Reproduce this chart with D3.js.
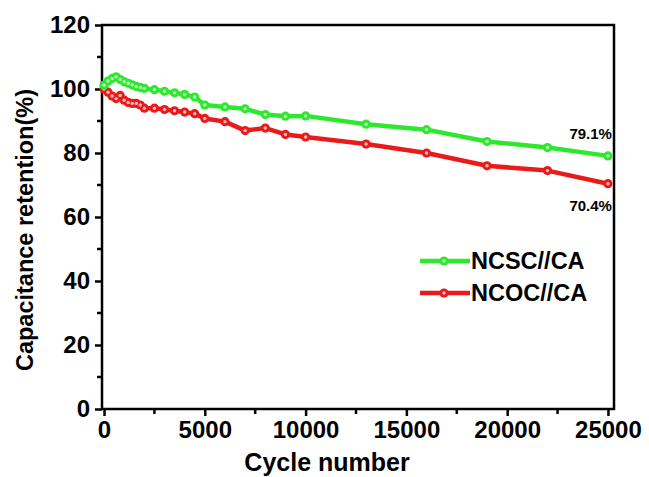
<!DOCTYPE html>
<html>
<head>
<meta charset="utf-8">
<script src="https://cdn.jsdelivr.net/npm/d3@7"></script>
<style>
  body { margin: 0; background: #fff; }
  text { font-family: "Liberation Sans", Arial, sans-serif; font-weight: bold; }
</style>
</head>
<body>
<div id="chart"></div>
<script>
// cycle numbers and retention values
const ncscCycles = [0, 200, 400, 600, 800, 1000, 1200, 1400, 1600, 1800, 2000, 2500, 3000, 3500, 4000, 4500, 5000, 6000, 7000, 8000, 9000, 10000, 13000, 16000, 19000, 22000, 25000];
const ncscValues = [101.2, 102.5, 103.3, 103.8, 103, 102.3, 101.8, 101.3, 100.8, 100.5, 100.2, 99.8, 99.3, 98.8, 98.3, 97.5, 95, 94.4, 93.8, 92, 91.5, 91.6, 89, 87.3, 83.6, 81.7, 79.1];
const ncocCycles = [0, 200, 400, 600, 800, 1000, 1200, 1400, 1600, 1800, 2000, 2500, 3000, 3500, 4000, 4500, 5000, 6000, 7000, 8000, 9000, 10000, 13000, 16000, 19000, 22000, 25000];
const ncocValues = [100, 99, 97.8, 97, 98, 96.5, 95.8, 95.5, 95.5, 95, 94, 94, 93.6, 93.2, 92.8, 92.3, 90.8, 89.8, 87, 87.8, 85.8, 85, 82.8, 80, 76, 74.5, 70.4];

const seriesNames = ["NCSC//CA", "NCOC//CA"];
const xTicks = [0, 5000, 10000, 15000, 20000, 25000];
const xMinor = [2500, 7500, 12500, 17500, 22500];
const yTicks = [0, 20, 40, 60, 80, 100, 120];
const yMinor = [10, 30, 50, 70, 90, 110];

const colors = ["#2ee82e", "#e81a1a"];

var width = 649, height = 477;
var margin = {top: 25, right: 35, bottom: 68, left: 102};

var svg = d3.select("#chart").append("svg")
    .attr("width", width)
    .attr("height", height);

var x = d3.scaleLinear()
    .domain([-100, 25300])
    .range([margin.left, width - margin.right]);

var y = d3.scaleLinear()
    .domain([0, 120])
    .range([height - margin.bottom, margin.top]);

// ticks on the bottom
var xAxis = svg.append("g")
    .attr("transform", "translate(0," + y(0) + ")")
    .call(d3.axisBottom(x).tickValues(xTicks).tickSize(7).tickPadding(5).tickFormat(d3.format("d")));
xAxis.append("g").selectAll("line").data(xMinor).enter().append("line")
    .attr("x1", d => x(d)).attr("x2", d => x(d))
    .attr("y1", 0).attr("y2", 5);

var yAxis = svg.append("g")
    .attr("transform", "translate(" + x(-100) + ",0)")
    .call(d3.axisLeft(y).tickValues(yTicks).tickSize(7).tickPadding(5));
yAxis.append("g").selectAll("line").data(yMinor).enter().append("line")
    .attr("y1", d => y(d)).attr("y2", d => y(d))
    .attr("x1", 0).attr("x2", -5);

svg.selectAll(".domain").remove();
xAxis.selectAll("line").attr("stroke", "#000").attr("stroke-width", 2.5);
yAxis.selectAll("line").attr("stroke", "#000").attr("stroke-width", 2.5);
svg.selectAll(".tick text")
    .attr("fill", "#000")
    .style("font-size", "24px");

// frame
svg.append("rect")
    .attr("x", x(-100)).attr("y", y(120))
    .attr("width", x(25300) - x(-100))
    .attr("height", y(0) - y(120))
    .attr("fill", "none").attr("stroke", "#000").attr("stroke-width", 2.5);

var allSeries = [
    ncscCycles.map((c, i) => ({x: c, y: ncscValues[i]})),
    ncocCycles.map((c, i) => ({x: c, y: ncocValues[i]}))
];

var line = d3.line().x(d => x(d.x)).y(d => y(d.y));

// draw the red one first so green sits on top
[1, 0].forEach(function (k) {
    var g = svg.append("g");
    g.append("path")
        .datum(allSeries[k])
        .attr("d", line)
        .attr("fill", "none")
        .attr("stroke", colors[k])
        .attr("stroke-width", 4.5)
        .attr("stroke-linejoin", "round");
    g.selectAll("circle.m").data(allSeries[k]).enter().append("circle")
        .attr("cx", d => x(d.x)).attr("cy", d => y(d.y))
        .attr("r", 4.6).attr("fill", colors[k]);
    g.selectAll("circle.h").data(allSeries[k]).enter().append("circle")
        .attr("cx", d => x(d.x)).attr("cy", d => y(d.y))
        .attr("r", 1.7).attr("fill", "#fff").attr("opacity", 0.7);
});

// end labels
svg.append("text").attr("x", x(25000) + 4).attr("y", y(79.1) - 17)
    .attr("text-anchor", "end").style("font-size", "15px").text("79.1%");
svg.append("text").attr("x", x(25000) + 4).attr("y", y(70.4) + 27)
    .attr("text-anchor", "end").style("font-size", "15px").text("70.4%");

// legend
seriesNames.forEach(function (name, i) {
    var ly = 261 + i * 32;
    svg.append("line").attr("x1", 420).attr("x2", 470).attr("y1", ly).attr("y2", ly)
        .attr("stroke", colors[i]).attr("stroke-width", 4.5);
    svg.append("circle").attr("cx", 444).attr("cy", ly).attr("r", 4.6).attr("fill", colors[i]);
    svg.append("circle").attr("cx", 444).attr("cy", ly).attr("r", 1.7).attr("fill", "#fff").attr("opacity", 0.7);
    svg.append("text").attr("x", 471).attr("y", ly + 8).style("font-size", "23.5px").text(name);
});

// axis titles
svg.append("text")
    .attr("x", 327)
    .attr("y", 471)
    .attr("text-anchor", "middle")
    .style("font-size", "25px")
    .text("Cycle number");

svg.append("text")
    .attr("transform", "translate(33,230) rotate(-90)")
    .attr("text-anchor", "middle")
    .style("font-size", "23.5px")
    .text("Capacitance retention(%)");
</script>
</body>
</html>
